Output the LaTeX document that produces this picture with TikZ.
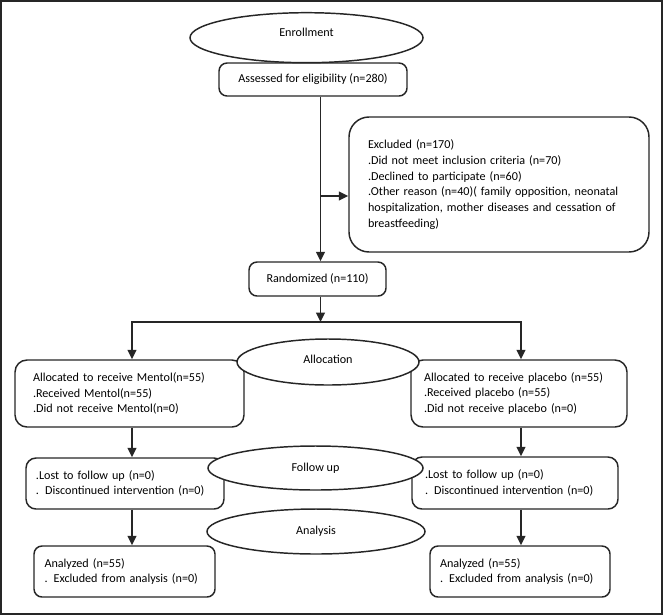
\documentclass[tikz,border=0pt]{standalone}
\usepackage{fontspec}
\setmainfont{Carlito}
\usetikzlibrary{shapes.geometric, arrows.meta, positioning}
\hyphenpenalty=10000

\begin{document}
\begin{tikzpicture}[x=0.75pt, y=-0.75pt,
    box/.style={draw=black!85, fill=white, rectangle, rounded corners=6pt, line width=1.1pt, inner sep=0pt, align=left, font=\fontsize{9.1}{11.8}\selectfont},
    phase/.style={draw=black!85, fill=white, ellipse, line width=1.1pt, inner sep=0pt, font=\fontsize{9.1}{11.8}\selectfont},
    arrow/.style={-{Triangle[length=7pt, width=6.5pt]}, line width=1.3pt, draw=black!85}]

    \useasboundingbox (0,0) rectangle (663,615);
    \draw[line width=1.6pt, black!85] (1,1) rectangle (662,614);

    % boxes
    \node[box, align=center, minimum width=141pt, minimum height=24.75pt] (assessed) at (313,79.5) {Assessed for eligibility (n=280)};
    \node[box, rounded corners=15pt, minimum width=225pt, minimum height=101.25pt, text width=196.5pt] (excl) at (499,184.5) {Excluded (n=170)\\ .Did not meet inclusion criteria (n=70)\\ .Declined to participate (n=60)\\ .Other reason (n=40)( family opposition, neonatal\\ hospitalization, mother diseases and cessation of\\ breastfeeding)};
    \node[box, align=center, minimum width=102.75pt, minimum height=25.5pt] (rand) at (317.5,279) {Randomized (n=110)};

    \node[box, rounded corners=9pt, minimum width=171.75pt, minimum height=50.25pt, text width=144.75pt] (allocL) at (129.5,393.5) {Allocated to receive Mentol(n=55)\\ .Received Mentol(n=55)\\ .Did not receive Mentol(n=0)};
    \node[box, rounded corners=9pt, minimum width=162pt, minimum height=50.25pt, text width=142.5pt] (allocR) at (519,393.5) {Allocated to receive placebo (n=55)\\ .Received placebo (n=55)\\ .Did not receive placebo (n=0)};

    \node[box, rounded corners=7.5pt, minimum width=148.5pt, minimum height=38.25pt, text width=133.5pt] (followL) at (125,483.5) {.Lost to follow up (n=0)\\ . Discontinued intervention (n=0)};
    \node[box, rounded corners=7.5pt, minimum width=154.5pt, minimum height=39pt, text width=135pt] (followR) at (515,483) {.Lost to follow up (n=0)\\ . Discontinued intervention (n=0)};

    \node[box, minimum width=135.75pt, minimum height=38.25pt, text width=120pt] (anaL) at (124.5,571.5) {Analyzed (n=55)\\ . Excluded from analysis (n=0)};
    \node[box, minimum width=135pt, minimum height=38.25pt, text width=120pt] (anaR) at (520,571.5) {Analyzed (n=55)\\ . Excluded from analysis (n=0)};

    % connectors
    \coordinate (split) at (320.5,196);
    \coordinate (bar) at (320.5,322);
    \coordinate (colL) at (132,322);
    \coordinate (colR) at (521,322);

    \draw[arrow] (assessed.south -| split) -- (rand.north -| split);
    \draw[arrow] (split) -- (excl.west |- split);
    \draw[arrow] (rand.south -| split) -- (bar);
    \draw[arrow] (bar) -| (allocL.north -| colL);
    \draw[arrow] (bar) -| (allocR.north -| colR);
    \draw[arrow] (allocL.south -| colL) -- (followL.north -| colL);
    \draw[arrow] (allocR.south -| colR) -- (followR.north -| colR);
    \draw[arrow] (followL.south -| colL) -- (anaL.north -| colL);
    \draw[arrow] (followR.south -| colR) -- (anaR.north -| colR);

    % phases
    \node[phase, minimum width=174.75pt, minimum height=37.5pt, text depth=7.5pt] (enroll) at (306.5,37.7) {Enrollment};
    \node[phase, minimum width=136.5pt, minimum height=34.5pt, text depth=4pt] (allocation) at (328,362) {Allocation};
    \node[phase, minimum width=161.25pt, minimum height=33pt] (followup) at (315.5,468) {Follow up};
    \node[phase, minimum width=163.5pt, minimum height=33.75pt] (analysis) at (316,531.5) {Analysis};
\end{tikzpicture}
\end{document}
